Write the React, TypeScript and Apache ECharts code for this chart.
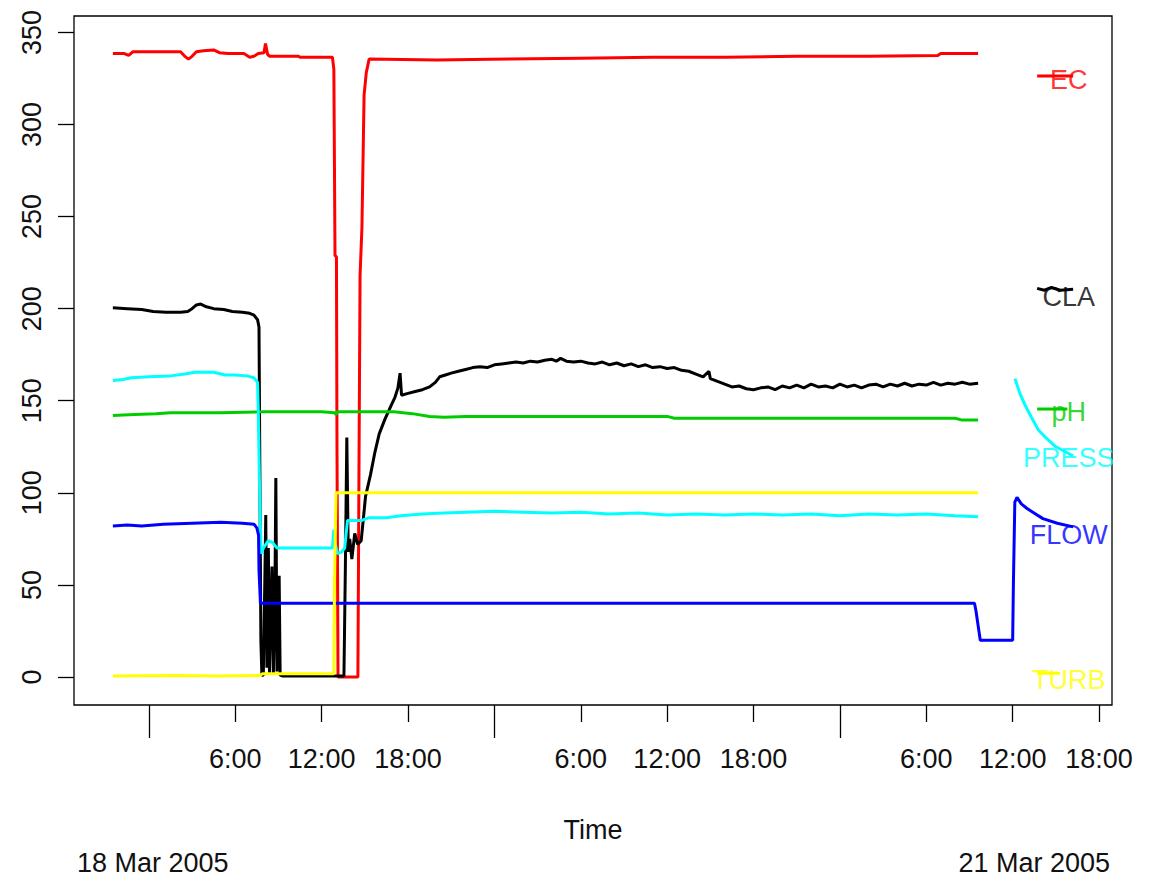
import React, { useEffect, useRef } from 'react';
import * as echarts from 'echarts';

const FONT = '"Liberation Sans", Arial, Helvetica, sans-serif';

// axis settings (x in hours from 18 Mar 2005 00:00)
const xMin = -5.2;
const xMax = 66.9;
const yMin = -15.2;
const yMax = 358.9;
const hourTicks = [6, 12, 18, 30, 36, 42, 54, 60, 66];
const dayTicks = [0, 24, 48];
const yTicks = [0, 50, 100, 150, 200, 250, 300, 350];
const xTitle = 'Time';
const dateLabels = ['18 Mar 2005', '21 Mar 2005'];

// EC (red)
const ecMain = [
  [-2.5, 338.5], [-1.7, 338.5], [-1.4, 337.5], [-1.1, 339.5], [0.5, 339.5], [1.5, 339.5], [2.2, 339.5],
  [2.5, 337], [2.75, 335.5], [3.0, 337], [3.3, 339.5], [3.8, 340], [4.5, 340.5], [4.9, 339], [5.5, 338.5],
  [6.6, 338.5], [7.0, 336.5], [7.3, 337], [7.6, 338.5], [8.0, 339], [8.1, 344], [8.25, 338], [8.4, 337],
  [10.4, 337], [10.5, 336.5], [12.75, 336.5], [12.85, 330], [12.93, 229], [13.03, 228], [13.07, 120],
  [13.14, 0], [14.52, 0], [14.6, 120], [14.67, 218], [14.8, 244], [14.95, 316], [15.1, 328], [15.3, 335.5],
  [20, 335], [25, 335.5], [30, 336], [35, 336.5], [40, 336.5], [45, 337], [50, 337], [54.8, 337.5],
  [55, 338.5], [57.6, 338.5],
];
const ecTail = [[61.7, 326.3], [64.2, 326.3]];

// CLA (black)
const claMain = [
  [-2.5, 200.5], [-1.5, 200], [-0.5, 199.5], [0.3, 198.5], [1.2, 198], [2.2, 198], [2.7, 198.5], [3.0, 200],
  [3.3, 202], [3.6, 202.5], [4.0, 201], [4.5, 200], [5.2, 199.5], [5.8, 198.5], [6.5, 198], [7.0, 197.5],
  [7.3, 196.5], [7.55, 194], [7.65, 190], [7.72, 100], [7.78, 20], [7.85, 1], [7.95, 1], [8.05, 50],
  [8.12, 88], [8.2, 5], [8.3, 70], [8.38, 2], [8.55, 60], [8.65, 2], [8.75, 40], [8.82, 108], [8.9, 3],
  [9.05, 55], [9.12, 1], [9.3, 0.5], [13.55, 0.5], [13.65, 60], [13.75, 130], [13.85, 68], [13.95, 75],
  [14.1, 64], [14.3, 78], [14.5, 72], [14.75, 74], [14.95, 90], [15.05, 98], [15.4, 110], [15.7, 122],
  [16.0, 132], [16.4, 140], [16.8, 147], [17.1, 152], [17.3, 157], [17.45, 165], [17.55, 153], [18.0, 154],
  [18.5, 155], [19.0, 156], [19.5, 157.5], [19.9, 160], [20.2, 163], [20.6, 164], [21.0, 165], [21.5, 166],
  [22.0, 167], [22.5, 168], [23.0, 168.5], [23.5, 168], [24.0, 169.5], [24.5, 170], [25.0, 170.5],
  [25.5, 171], [26.0, 170.5], [26.5, 171.5], [27.0, 171], [27.5, 172], [28.0, 172.5], [28.3, 171.5],
  [28.6, 173], [29.0, 171.5], [29.5, 171], [30.0, 171.5], [30.5, 170.5], [31.0, 170], [31.5, 171],
  [32.0, 169.5], [32.5, 170.5], [33.0, 169], [33.5, 170], [34.0, 168.5], [34.5, 169.5], [35.0, 168],
  [35.5, 168.5], [36.0, 167.5], [36.5, 168], [37.0, 166.5], [37.5, 166], [38.0, 164.5], [38.5, 163],
  [38.9, 166], [39.0, 162], [39.5, 160.5], [40.0, 159], [40.5, 157.5], [41.0, 158], [41.5, 156.5],
  [42.0, 156], [42.5, 157], [43.0, 157.5], [43.5, 156], [44.0, 158], [44.5, 157], [45.0, 158.5],
  [45.5, 157], [46.0, 159], [46.5, 157.5], [47.0, 158], [47.5, 157], [48.0, 159], [48.5, 157.5],
  [49.0, 158.5], [49.5, 157], [50.0, 158.5], [50.5, 159], [51.0, 157.5], [51.5, 159], [52.0, 158],
  [52.5, 159.5], [53.0, 158], [53.5, 159], [54.0, 158.5], [54.5, 160], [55.0, 158.5], [55.5, 159.5],
  [56.0, 159], [56.5, 160], [57.0, 159], [57.6, 159.5],
];
const claTail = [[61.7, 211], [62.2, 210], [62.7, 211.5], [63.3, 210], [64.2, 210.5]];

// pH (green)
const phMain = [
  [-2.5, 142], [-1.0, 142.5], [0.5, 143], [1.5, 143.5], [5, 143.5], [8, 144], [12, 144], [12.9, 143.5],
  [13.0, 142.5], [13.1, 144], [17, 144], [18.3, 143], [19.5, 141.5], [20.5, 141], [22, 141.5], [36, 141.5],
  [36.5, 140.5], [56.0, 140.5], [56.5, 139.5], [57.6, 139.5],
];
const phTail = [[61.7, 145.5], [63.8, 145.5]];

// PRESS (cyan)
const pressMain = [
  [-2.5, 161], [-1.8, 161.5], [-1.2, 162.5], [0, 163], [1.5, 163.5], [2.5, 164.5], [3.2, 165.5], [4.5, 165.5],
  [5.3, 164], [6.0, 164], [6.8, 163.5], [7.3, 162.5], [7.55, 160], [7.6, 145], [7.68, 107], [7.75, 80],
  [7.8, 67], [7.95, 70], [8.3, 74], [8.6, 73], [8.9, 70], [12.75, 70], [12.85, 80], [12.95, 72], [13.1, 67],
  [13.4, 68], [13.6, 70], [13.8, 85], [14.8, 85], [15.3, 86.5], [16.5, 86.5], [17.5, 87.5], [19.0, 88.5],
  [20.5, 89], [22, 89.5], [24, 90], [26, 89.5], [28, 89], [30, 89.5], [32, 88.5], [34, 89], [36, 88],
  [38, 88.5], [40, 88], [42, 88.5], [44, 88], [46, 88.5], [48, 87.5], [50, 88.5], [52, 88], [54, 88.5],
  [56, 87.5], [57.6, 87],
];
const pressTail = [
  [60.16, 162], [60.5, 154], [60.9, 147], [61.3, 141], [61.8, 134], [62.3, 130], [63.0, 125], [63.5, 123],
  [64.2, 120],
];

// FLOW (blue)
const flowAll = [
  [-2.5, 82], [-1.5, 82.5], [-0.5, 82], [1.0, 83], [3.0, 83.5], [5.0, 84], [6.5, 83.5], [7.3, 83], [7.5, 81],
  [7.62, 77], [7.65, 58], [7.75, 40], [57.35, 40], [57.45, 36], [57.6, 28], [57.75, 20], [60.0, 20],
  [60.05, 50], [60.15, 95], [60.3, 97.5], [60.6, 94], [61.0, 91.5], [61.4, 89.5], [62.1, 86], [63.1, 83.5],
  [64.2, 81.5],
];

// TURB (yellow)
const turbMain = [
  [-2.5, 0.5], [2, 0.8], [5, 0.5], [7.7, 0.8], [7.9, 1.8], [12.85, 1.8], [12.9, 54], [13.0, 100], [57.6, 100],
];
const turbTail = [[61.7, 2], [63.3, 2]];

// text labels at the right (name, x hour, y value)
const labelNames = ['EC', 'CLA', 'pH', 'PRESS', 'FLOW', 'TURB'];
const labelX = 63.9;
const labelY = [324.2, 206.3, 143.9, 118.9, 77.1, -1.6];
const colors = ['#ff0000', '#000000', '#00cd00', '#00ffff', '#0000ff', '#ffff00'];

function lineSeries(data: number[][], color: string) {
  return {
    type: 'line',
    data,
    symbol: 'none',
    showSymbol: false,
    silent: true,
    clip: true,
    lineStyle: { color, width: 3 },
    itemStyle: { color },
  };
}

export default function App() {
  const ref = useRef<HTMLDivElement>(null);
  useEffect(() => {
    if (!ref.current) return;
    const chart = echarts.init(ref.current, undefined, { renderer: 'svg' });
    const axisText = { fontSize: 27, fontFamily: FONT, color: '#111' };
    const series: any[] = [
      lineSeries(ecMain, colors[0]),
      lineSeries(ecTail, colors[0]),
      lineSeries(claMain, colors[1]),
      lineSeries(claTail, colors[1]),
      lineSeries(phMain, colors[2]),
      lineSeries(phTail, colors[2]),
      lineSeries(pressMain, colors[3]),
      lineSeries(pressTail, colors[3]),
      lineSeries(flowAll, colors[4]),
      lineSeries(turbMain, colors[5]),
      lineSeries(turbTail, colors[5]),
    ];
    labelNames.forEach((name, i) => {
      series.push({
        type: 'scatter',
        symbolSize: 0,
        silent: true,
        data: [[labelX, labelY[i]]],
        label: {
          show: true,
          position: 'inside',
          formatter: name,
          fontSize: 27,
          fontFamily: FONT,
          color: colors[i],
        },
        z: 5,
      });
    });
    chart.setOption({
      animation: false,
      backgroundColor: '#ffffff',
      grid: {
        left: 74, top: 16, width: 1038, height: 689,
        show: true, borderColor: '#000', borderWidth: 1.3, backgroundColor: 'transparent',
      },
      xAxis: [
        {
          type: 'value', min: xMin, max: xMax, position: 'bottom',
          axisLine: { show: false, onZero: false }, splitLine: { show: false },
          axisTick: { show: true, length: 17, customValues: hourTicks, lineStyle: { color: '#000', width: 1.3 } },
          axisLabel: {
            ...axisText, margin: 40, customValues: hourTicks,
            formatter: (v: number) => `${Math.round(((v % 24) + 24) % 24)}:00`,
          },
        },
        {
          type: 'value', min: xMin, max: xMax, position: 'bottom',
          axisLine: { show: false, onZero: false }, splitLine: { show: false },
          axisTick: { show: true, length: 33, customValues: dayTicks, lineStyle: { color: '#000', width: 1.3 } },
          axisLabel: { show: false },
        },
      ],
      yAxis: {
        type: 'value', min: yMin, max: yMax,
        axisLine: { show: false, onZero: false }, splitLine: { show: false },
        axisTick: { show: true, length: 16, customValues: yTicks, lineStyle: { color: '#000', width: 1.3 } },
        axisLabel: { ...axisText, margin: 29, rotate: 90, customValues: yTicks },
      },
      graphic: [
        {
          type: 'rect', z: 100, zlevel: 0, silent: true,
          shape: { x: 1113, y: 380, width: 40, height: 200 },
          style: { fill: '#ffffff' },
        },
        {
          type: 'text', x: 593, y: 830, silent: true,
          style: { text: xTitle, fontSize: 27, fontFamily: FONT, fill: '#111', align: 'center', verticalAlign: 'middle' },
        },
        {
          type: 'text', x: 77, y: 863, silent: true,
          style: { text: dateLabels[0], fontSize: 27, fontFamily: FONT, fill: '#111', align: 'left', verticalAlign: 'middle' },
        },
        {
          type: 'text', x: 1110, y: 863, silent: true,
          style: { text: dateLabels[1], fontSize: 27, fontFamily: FONT, fill: '#111', align: 'right', verticalAlign: 'middle' },
        },
      ],
      series,
    });
    return () => chart.dispose();
  }, []);
  return <div ref={ref} style={{ position: 'absolute', left: 0, top: 0, width: 1150, height: 878 }} />;
}
